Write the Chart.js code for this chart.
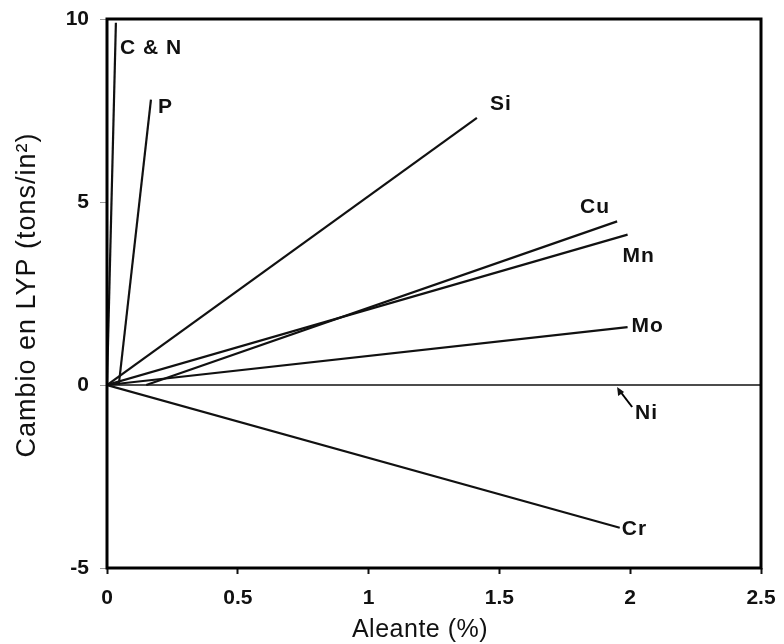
<!DOCTYPE html>
<html>
<head>
<meta charset="utf-8">
<script src="https://cdn.jsdelivr.net/npm/chart.js"></script>
<style>
  body { margin: 0; background: #fff; }
  #wrap { width: 784px; height: 644px; }
</style>
</head>
<body>
<div id="wrap"><canvas id="chart" width="784" height="644"></canvas></div>
<script>
// alloy lines: change in lower yield point vs alloy content
const alloys = ['C & N', 'P', 'Si', 'Cu', 'Mn', 'Mo', 'Ni', 'Cr']
const startPct = [0, 0.045, 0, 0.15, 0, 0, 0, 0]
const endPct = [0.034, 0.168, 1.414, 1.95, 1.99, 1.99, 2.5, 1.96]
const startLyp = [0, 0, 0, 0, 0, 0, 0, 0]
const endLyp = [9.9, 7.8, 7.3, 4.47, 4.11, 1.58, 0, -3.9]

const xTicks = [0, 0.5, 1, 1.5, 2, 2.5]
const yTicks = [-5, 0, 5, 10]

const xTitle = 'Aleante (%)'
const yTitle = 'Cambio en LYP (tons/in²)'

const FONT = '"Liberation Sans", Arial, sans-serif'

// label placement relative to each line's end point (px)
const labelOffsets = {
  'C & N': [4, 26],
  'P': [7, 8],
  'Si': [13, -14],
  'Cu': [-37, -14],
  'Mn': [-5, 22],
  'Mo': [4, -1],
  'Cr': [2, 1]
}

const datasets = alloys.map((name, i) => ({
  label: name,
  data: [
    { x: startPct[i], y: startLyp[i] },
    { x: endPct[i], y: endLyp[i] }
  ],
  showLine: true,
  borderColor: '#111',
  borderWidth: name === 'Ni' ? 1.5 : 2.2,
  pointRadius: 0,
  fill: false
}))

const frame = {
  id: 'frame',
  afterDatasetsDraw(chart) {
    const { ctx, chartArea: a, scales } = chart
    ctx.save()
    ctx.strokeStyle = '#000'
    ctx.lineWidth = 3
    ctx.strokeRect(a.left, a.top, a.right - a.left, a.bottom - a.top)

    ctx.fillStyle = '#111'
    ctx.font = 'bold 21px ' + FONT
    ctx.letterSpacing = '1px'
    ctx.textBaseline = 'middle'
    ctx.textAlign = 'left'
    alloys.forEach((name, i) => {
      const off = labelOffsets[name]
      if (!off) return
      const px = scales.x.getPixelForValue(endPct[i])
      const py = scales.y.getPixelForValue(endLyp[i])
      ctx.fillText(name, px + off[0], py + off[1])
    })

    // Ni: arrow pointing at the flat line
    const ax = scales.x.getPixelForValue(1.95)
    const ay = scales.y.getPixelForValue(0) + 2
    ctx.lineWidth = 2
    ctx.beginPath()
    ctx.moveTo(ax + 15, ay + 20)
    ctx.lineTo(ax + 2, ay + 3)
    ctx.stroke()
    ctx.beginPath()
    ctx.moveTo(ax, ay)
    ctx.lineTo(ax + 1, ay + 9)
    ctx.lineTo(ax + 7, ay + 5)
    ctx.closePath()
    ctx.fill()
    ctx.fillText('Ni', ax + 18, ay + 26)

    // axis titles
    ctx.textAlign = 'center'
    ctx.font = '25px ' + FONT
    ctx.letterSpacing = '0.5px'
    ctx.fillText(xTitle, 420, 630)
    ctx.font = '27px ' + FONT
    ctx.letterSpacing = '1px'
    ctx.translate(28, 295)
    ctx.rotate(-Math.PI / 2)
    ctx.fillText(yTitle, 0, 0)
    ctx.restore()
  }
}

new Chart(document.getElementById('chart'), {
  type: 'scatter',
  data: { datasets },
  plugins: [frame],
  options: {
    responsive: false,
    animation: false,
    layout: { padding: { top: 19, right: 23, left: 0, bottom: 0 } },
    plugins: {
      legend: { display: false },
      tooltip: { enabled: false }
    },
    scales: {
      x: {
        type: 'linear',
        min: 0,
        max: 2.5,
        afterFit: s => {
          s.height = 76
          s.paddingLeft = 0
          s.paddingRight = 0
        },
        afterBuildTicks: s => { s.ticks = xTicks.map(v => ({ value: v })) },
        border: { display: false },
        grid: {
          drawOnChartArea: false,
          tickLength: 6,
          tickWidth: 2,
          tickColor: '#111'
        },
        ticks: {
          padding: 12,
          color: '#111',
          font: { family: FONT, size: 21, weight: 'bold' },
          maxRotation: 0,
          callback: v => String(v)
        }
      },
      y: {
        type: 'linear',
        min: -5,
        max: 10,
        afterFit: s => {
          s.width = 107
          s.paddingTop = 0
          s.paddingBottom = 0
        },
        afterBuildTicks: s => { s.ticks = yTicks.map(v => ({ value: v })) },
        border: { display: false },
        grid: {
          drawOnChartArea: false,
          tickLength: 7,
          tickWidth: 1,
          tickColor: '#999'
        },
        ticks: {
          padding: 11,
          color: '#111',
          font: { family: FONT, size: 21, weight: 'bold' },
          callback: v => String(v)
        }
      }
    }
  }
})
</script>
</body>
</html>
